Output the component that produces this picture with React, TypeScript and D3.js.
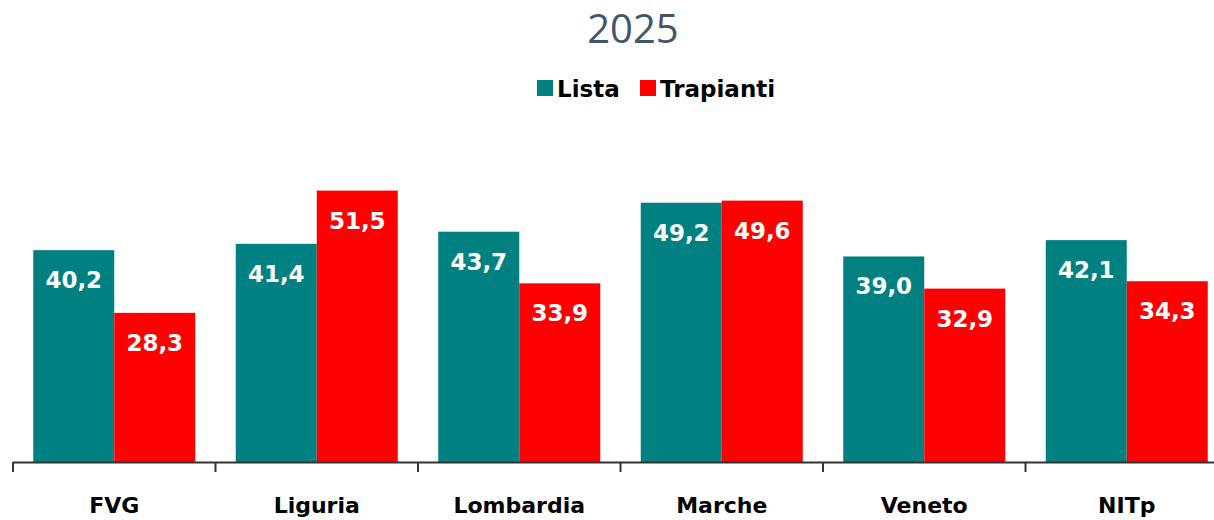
import React from "react";
import { scaleBand, scaleLinear, format } from "d3";

const categories = ["FVG", "Liguria", "Lombardia", "Marche", "Veneto", "NITp"];
const series = ["Lista", "Trapianti"];
const lista = [40.2, 41.4, 43.7, 49.2, 39.0, 42.1];
const trapianti = [28.3, 51.5, 33.9, 49.6, 32.9, 34.3];
const colors = ["#008080", "#FF0000"];

const width = 1214;
const height = 520;
const axisLeftX = 13;
const axisRightX = 1228;
const baseY = 462;
const font = "'DejaVu Sans', Verdana, sans-serif";

const fmt = (v: number) => format(".1f")(v).replace(".", ",");

function App() {
  const x0 = scaleBand().domain(categories).range([axisLeftX, axisRightX]).padding(0);
  const x1 = scaleBand().domain(series).range([0, x0.bandwidth()]).paddingInner(0).paddingOuter(0.25);
  const y = scaleLinear().domain([0, 60]).range([baseY, baseY - 60 * 5.27]);

  const values = [lista, trapianti];
  const ticks = categories.map(c => x0(c)!).concat([axisRightX]);

  return (
    <svg width={width} height={height} style={{ position: "absolute", left: 0, top: 0 }}>
      <text x={633} y={43} textAnchor="middle" fontFamily="'Open Sans', sans-serif" fontSize={40} fill="#44546A">2025</text>

      {/* legend */}
      <g fontFamily={font} fontWeight="bold" fontSize={23} fill="#000">
        <rect x={537} y={80} width={16} height={16} fill={colors[0]} />
        <text x={557} y={97}>Lista</text>
        <rect x={640} y={80} width={16} height={16} fill={colors[1]} />
        <text x={660} y={97}>Trapianti</text>
      </g>

      {categories.map((c, i) => (
        <g key={c} transform={`translate(${x0(c)},0)`}>
          {series.map((s, j) => {
            const v = values[j][i];
            const bx = x1(s)!;
            return (
              <g key={s}>
                <rect x={bx} y={y(v)} width={x1.bandwidth()} height={baseY - y(v)} fill={colors[j]} />
                <text x={bx + x1.bandwidth() / 2} y={y(v) + 38} textAnchor="middle" fontFamily={font}
                  fontWeight="bold" fontSize={23} fill="#fff">{fmt(v)}</text>
              </g>
            );
          })}
          <text x={x0.bandwidth() / 2} y={513} textAnchor="middle" fontFamily={font} fontWeight="bold"
            fontSize={22} fill="#000">{c}</text>
        </g>
      ))}

      {/* axis */}
      <line x1={axisLeftX} x2={axisRightX} y1={baseY + 0.5} y2={baseY + 0.5} stroke="#333" strokeWidth={2} />
      {ticks.map((t, i) => (
        <line key={i} x1={t} x2={t} y1={baseY} y2={baseY + 10} stroke="#333" strokeWidth={2} />
      ))}
    </svg>
  );
}

export default App;
